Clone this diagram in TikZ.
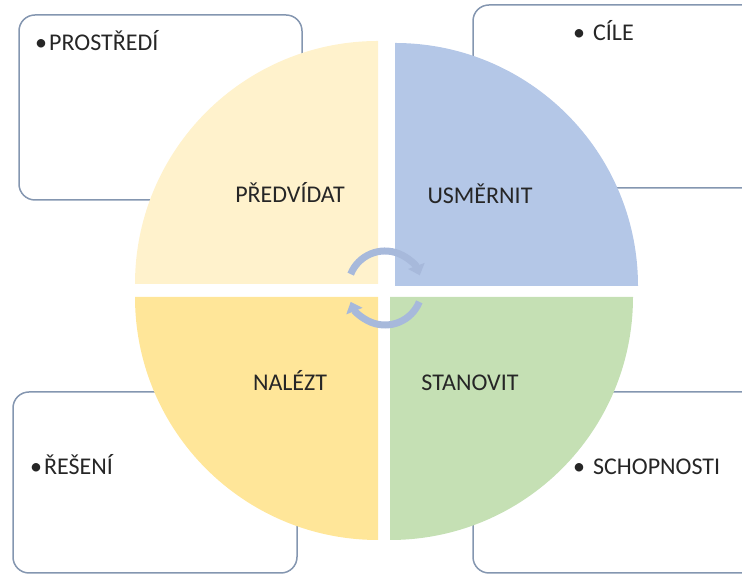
\documentclass[tikz,border=0pt]{standalone}
\usepackage{fontspec}
\setmainfont{Carlito}
\usetikzlibrary{arrows.meta}

\definecolor{boxline}{HTML}{8496B0}
\definecolor{cream}{HTML}{FFF2CC}
\definecolor{skyblue}{HTML}{B4C7E7}
\definecolor{gold}{HTML}{FFE699}
\definecolor{sage}{HTML}{C5E0B4}
\definecolor{loopblue}{HTML}{A7B9DB}
\definecolor{ink}{HTML}{262626}

\begin{document}
\begin{tikzpicture}[
        x=1pt, y=1pt,
        every node/.style={font=\fontsize{24}{28}\selectfont, text=ink,
            inner sep=0pt, text height=15.5pt, text depth=0pt},
        infobox/.style={draw=boxline, line width=1.5pt, rounded corners=16pt},
        turnarrow/.style={draw=loopblue, line width=7pt,
            -{Triangle[width=17pt,length=10pt]}}
    ]
    \useasboundingbox (0,0) rectangle (742,577);

    \draw[infobox] (19,377) rectangle (302,562);
    \draw[infobox] (473,389) rectangle (775,572);
    \draw[infobox] (13,4) rectangle (297,185);
    \draw[infobox] (473,4) rectangle (775,185);

    \fill[cream]   (378,293) -- ++(180:243) arc[start angle=180, end angle=90, radius=243] -- cycle;
    \fill[skyblue] (395,291) -- ++(90:243) arc[start angle=90, end angle=0, radius=243] -- cycle;
    \fill[gold]    (378,280) -- ++(180:243) arc[start angle=180, end angle=270, radius=243] -- cycle;
    \fill[sage]    (390,280) -- ++(0:243) arc[start angle=0, end angle=-90, radius=243] -- cycle;

    \coordinate (hub) at (385,289);
    \draw[turnarrow] ([shift={(158:37)}]hub) arc[start angle=158, end angle=20, radius=37];
    \draw[turnarrow] ([shift={(-22:37)}]hub) arc[start angle=-22, end angle=-158, radius=37];

    \node (predvidat) at (290,382) {PŘEDVÍDAT};
    \node (usmernit) at (480,381) {USMĚRNIT};
    \node (nalezt) at (290,194) {NALÉZT};
    \node (stanovit) at (470,194) {STANOVIT};

    \node[anchor=west] (prostredi) at (35,534) {•\hspace{2pt}PROSTŘEDÍ};
    \node[anchor=west] (cile) at (573,544) {•\hspace{8pt}CÍLE};
    \node[anchor=west] (reseni) at (30,110) {•\hspace{2pt}ŘEŠENÍ};
    \node[anchor=west] (schopnosti) at (573,110) {•\hspace{8pt}SCHOPNOSTI};
\end{tikzpicture}
\end{document}
